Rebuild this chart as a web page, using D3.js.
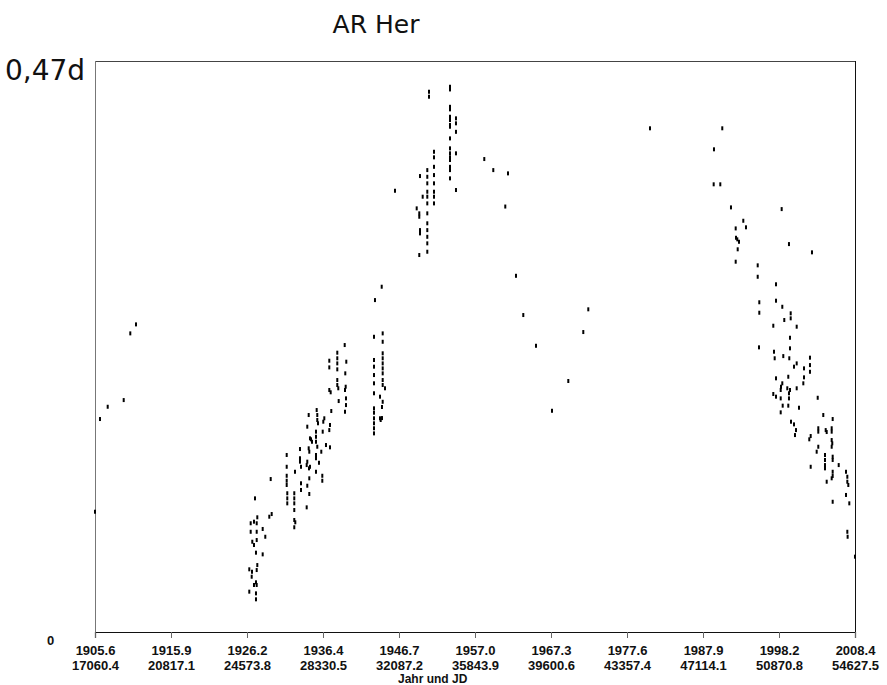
<!DOCTYPE html>
<html>
<head>
<meta charset="utf-8">
<script src="https://cdn.jsdelivr.net/npm/d3@7"></script>
<style>
  html, body { margin: 0; padding: 0; background: #fff; }
  svg { display: block; }
</style>
</head>
<body>
<div id="chart"></div>
<script>
// ---- data (JD - 2400000, period-type value in days) ----
const tickJD    = [17060.4, 20817.1, 24573.8, 28330.5, 32087.2, 35843.9, 39600.6, 43357.4, 47114.1, 50870.8, 54627.5];
const tickYears = ["1905.6","1915.9","1926.2","1936.4","1946.7","1957.0","1967.3","1977.6","1987.9","1998.2","2008.4"];
const tickJDLabels = ["17060.4","20817.1","24573.8","28330.5","32087.2","35843.9","39600.6","43357.4","47114.1","50870.8","54627.5"];

const jd = [
  17060,17307,17688,18479,18805,19087,
  25745,24969,25794,25676,25083,24919,24756,25053,25349,24756,25053,25478,24835,25053,24919,25018,25349,24687,25083,25053,24821,24806,25018,24919,25053,24687,25018,25018,
  26536,26536,26536,26536,26536,26565,26565,26565,26911,26911,26911,26911,26911,26961,26911,26946,27193,27193,27193,27243,27243,27243,27524,27524,27554,27554,27554,27623,27623,27653,27638,27687,27653,27653,27687,27737,27786,27984,27984,27984,28048,27984,27984,27984,28018,28048,28048,28083,28132,28246,28296,28296,28316,28345,28395,28478,28676,28642,28676,28740,28642,28710,28642,28642,29037,29037,29037,29037,29037,29037,29086,29106,29403,29482,29432,29452,29418,29467,29467,29418,
  30851,30851,30851,30851,30851,30851,30851,30851,30851,30851,30851,30851,31148,31148,31182,31281,31281,31281,31281,31281,31281,31281,31281,31281,31281,31395,31246,31246,30900,31232,31889,
  32962,33090,33090,33125,33125,33090,33125,33258,
  33486,33486,33486,33486,33486,33486,33486,33486,33486,33486,33486,33486,
  33817,33817,33817,33817,33817,33817,33817,33817,
  33570,33570,
  34608,34608,34608,34608,34608,34608,34608,34608,34608,34608,34608,34608,34608,34608,34608,34608,
  34904,34904,34904,34904,34904,
  36303,36748,37475,37341,37870,38231,38859,39650,40456,41197,41444,44494,
  48067,47657,47642,47969,48497,51003,49106,49239,48730,48745,48809,48893,48829,51364,52501,48730,49818,49818,50723,49897,49897,50723,51034,51449,51449,51132,51745,50589,51414,49882,51414,51380,50623,50657,51083,52402,52402,52402,51745,51612,52107,52107,52073,50723,51330,51034,50970,50955,50589,50723,50955,51281,51414,51364,51364,51745,52784,51053,51330,50955,51859,53060,53524,51464,51612,51711,51661,52813,52813,53179,53228,53475,53475,52437,52368,53475,53504,53475,52813,52733,53144,53144,53144,53144,53524,53524,52437,53822,53524,53524,53475,54183,54248,54248,54297,53228,54183,53524,54346,54248,54263,54627
];
const period = [
  0.0990,0.1753,0.1854,0.1909,0.2458,0.2532,
  0.1259,0.1100,0.0971,0.0949,0.0944,0.0908,0.0895,0.0895,0.0848,0.0825,0.0825,0.0784,0.0743,0.0757,0.0716,0.0653,0.0639,0.0516,0.0551,0.0510,0.0496,0.0455,0.0409,0.0387,0.0387,0.0332,0.0318,0.0269,
  0.1457,0.1360,0.1286,0.1245,0.1210,0.1142,0.1100,0.1059,0.1142,0.1100,0.1059,0.1004,0.0922,0.0903,0.0862,0.1319,0.1506,0.1430,0.1402,0.1360,0.1224,0.1169,0.1374,0.1026,0.1690,0.1402,0.1204,0.1786,0.1512,0.1484,0.1347,0.1360,0.1265,0.1136,0.1594,0.1586,0.1566,0.1649,0.1607,0.1566,0.1525,0.1457,0.1430,0.1319,0.1827,0.1786,0.1745,0.1718,0.1393,0.1484,0.1286,0.1245,0.1649,0.1731,0.1759,0.1539,0.1704,0.1662,0.1520,0.1819,0.1992,0.1973,0.2233,0.2178,0.2299,0.2253,0.2211,0.2162,0.2074,0.2033,0.2006,0.1901,0.2362,0.2225,0.2129,0.2019,0.1992,0.1923,0.1868,0.1813,
  0.2430,0.2239,0.2184,0.2115,0.2047,0.1965,0.1841,0.1805,0.1759,0.1718,0.1677,0.1635,0.1937,0.1759,0.1745,0.2458,0.2389,0.2294,0.2253,0.2211,0.2170,0.2129,0.2074,0.2033,0.1895,0.2006,0.1852,0.1761,0.2732,0.2842,0.3632,
  0.3487,0.3446,0.3418,0.3308,0.3281,0.3103,0.3753,0.3583,
  0.3802,0.3747,0.3693,0.3624,0.3583,0.3528,0.3446,0.3364,0.3308,0.3253,0.3199,0.3130,
  0.3953,0.3907,0.3829,0.3761,0.3693,0.3624,0.3583,0.3528,
  0.4447,0.4406,
  0.4488,0.4466,0.4323,0.4302,0.4241,0.4214,0.4173,0.4159,0.4063,0.3981,0.3940,0.3907,0.3885,0.3829,0.3802,0.3734,
  0.4228,0.4187,0.4117,0.3940,0.3638,
  0.3893,0.3802,0.3775,0.3502,0.2932,0.2609,0.2356,0.1821,0.2066,0.2469,0.2656,0.4146,
  0.4146,0.3973,0.3685,0.3685,0.3495,0.3481,0.3385,0.3331,0.3322,0.3245,0.3232,0.3212,0.3150,0.3193,0.3125,0.3048,0.3018,0.2924,0.2862,0.2714,0.2628,0.2727,0.2677,0.2623,0.2582,0.2568,0.2513,0.2521,0.2422,0.2343,0.2335,0.2253,0.2307,0.2253,0.2271,0.2258,0.2197,0.2142,0.2211,0.2184,0.2170,0.2096,0.2047,0.2088,0.2101,0.2047,0.2019,0.1992,0.1959,0.1937,0.1923,0.2006,0.1992,0.1965,0.1923,0.2006,0.1928,0.1863,0.1863,0.1808,0.1846,0.1786,0.1753,0.1731,0.1709,0.1662,0.1621,0.1677,0.1649,0.1662,0.1646,0.1677,0.1649,0.1613,0.1586,0.1580,0.1553,0.1525,0.1525,0.1484,0.1457,0.1416,0.1374,0.1347,0.1443,0.1416,0.1360,0.1374,0.1319,0.1284,0.1265,0.1319,0.1278,0.1237,0.1210,0.1237,0.1128,0.1072,0.1059,0.0825,0.0784,0.0620
];
const title = "AR Her";
const yTopLabel = "0,47d";
const yBottomLabel = "0";
const xAxisTitle = "Jahr und JD";

// ---- layout ----
const W = 887, H = 685;
const plot = { left: 95, right: 855, top: 61, bottom: 632 };

const svg = d3.select("#chart").append("svg")
  .attr("width", W).attr("height", H);

svg.append("rect").attr("width", W).attr("height", H).attr("fill", "#fff");

const x = d3.scaleLinear().domain([tickJD[0], tickJD[tickJD.length - 1]]).range([plot.left, plot.right]);
const y = d3.scaleLinear().domain([0, 0.47]).range([plot.bottom, plot.top]);

// frame
svg.append("line").attr("x1", plot.left).attr("x2", plot.right).attr("y1", plot.top + 0.5).attr("y2", plot.top + 0.5)
  .attr("stroke", "#444").attr("stroke-width", 1);
svg.append("line").attr("x1", plot.right + 0.5).attr("x2", plot.right + 0.5).attr("y1", plot.top).attr("y2", plot.bottom)
  .attr("stroke", "#111").attr("stroke-width", 1);
svg.append("line").attr("x1", plot.left + 0.5).attr("x2", plot.left + 0.5).attr("y1", plot.top).attr("y2", plot.bottom)
  .attr("stroke", "#777").attr("stroke-width", 1);

// bottom axis
const xAxis = d3.axisBottom(x).tickValues(tickJD).tickSize(6).tickFormat(() => "");
const gx = svg.append("g").attr("transform", `translate(0,${plot.bottom})`).call(xAxis);
gx.select(".domain").attr("stroke", "#111").attr("stroke-width", 1.2);
gx.selectAll(".tick line").attr("stroke", "#666");

const labFont = "'Liberation Sans', Arial, sans-serif";
gx.selectAll(".tick").each(function(d, i) {
  const g = d3.select(this);
  g.append("text").attr("x", 0).attr("y", 23).attr("text-anchor", "middle")
    .attr("font-family", labFont).attr("font-weight", "bold").attr("font-size", 13)
    .attr("fill", "#111").text(tickYears[i]);
  g.append("text").attr("x", 0).attr("y", 38).attr("text-anchor", "middle")
    .attr("font-family", labFont).attr("font-weight", "bold").attr("font-size", 13)
    .attr("fill", "#111").text(tickJDLabels[i]);
});

svg.append("text").attr("x", 398).attr("y", 683)
  .attr("font-family", labFont).attr("font-weight", "bold").attr("font-size", 12)
  .attr("fill", "#111").text(xAxisTitle);

// y labels
svg.append("text").attr("x", 5).attr("y", 80)
  .attr("font-family", "'DejaVu Sans', sans-serif").attr("font-size", 28)
  .attr("fill", "#111").text(yTopLabel);
svg.append("text").attr("x", 47).attr("y", 645)
  .attr("font-family", labFont).attr("font-weight", "bold").attr("font-size", 13)
  .attr("fill", "#111").text(yBottomLabel);

// title
svg.append("text").attr("x", 376).attr("y", 33).attr("text-anchor", "middle")
  .attr("font-family", "'DejaVu Sans', sans-serif").attr("font-size", 25)
  .attr("fill", "#111").text(title);

// points
const pts = jd.map((d, i) => ({ jd: d, v: period[i] }));
svg.append("g").selectAll("rect").data(pts).join("rect")
  .attr("x", d => x(d.jd) - 1)
  .attr("y", d => y(d.v) - 2)
  .attr("width", 2)
  .attr("height", 4)
  .attr("fill", "#000");
</script>
</body>
</html>
